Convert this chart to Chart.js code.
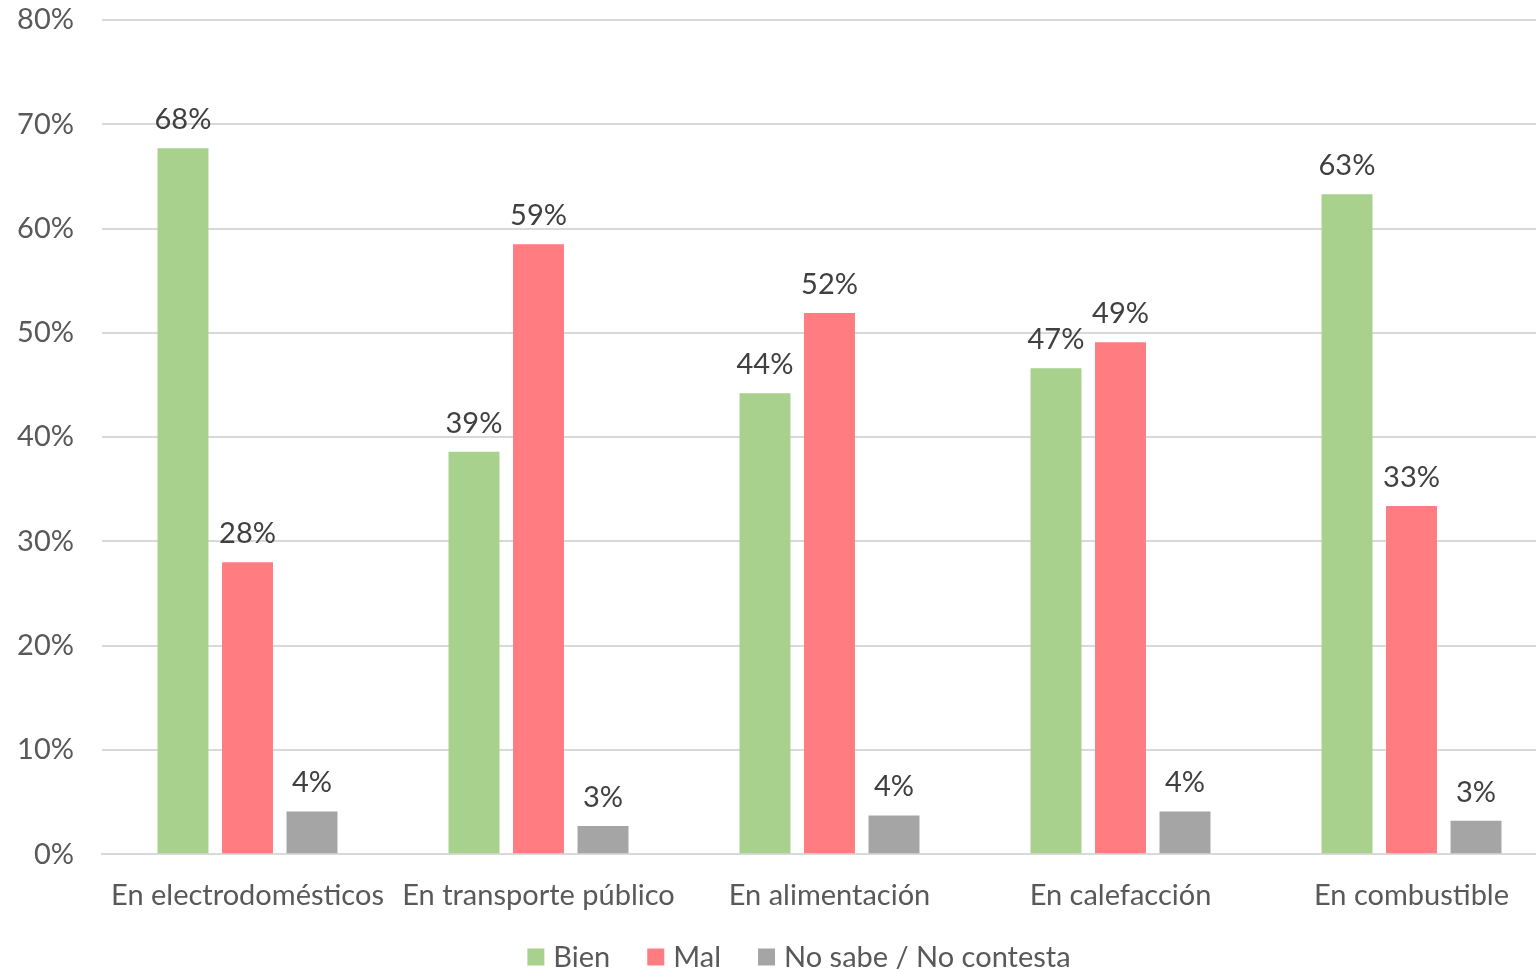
<!DOCTYPE html>
<html>
<head>
<meta charset="utf-8">
<script src="https://cdn.jsdelivr.net/npm/chart.js@4"></script>
<style>
    html, body { margin: 0; padding: 0; background: #ffffff; overflow: hidden; }
    #wrap { width: 1536px; height: 971px; overflow: hidden; }
</style>
</head>
<body>
<div id="wrap"><canvas id="chart" width="1557" height="971"></canvas></div>
<script>
const categories = ['En electrodomésticos', 'En transporte público', 'En alimentación', 'En calefacción', 'En combustible'];
const bienValues = [67.7, 38.6, 44.2, 46.6, 63.3];
const malValues = [28.0, 58.5, 51.9, 49.1, 33.4];
const nsncValues = [4.1, 2.7, 3.7, 4.1, 3.2];
const yTicks = [0, 10, 20, 30, 40, 50, 60, 70, 80];

const FONT = 'Lato, "Open Sans", sans-serif';

// Value labels above each bar
const barLabels = {
    id: 'barLabels',
    afterDatasetsDraw(chart) {
        const ctx = chart.ctx;
        ctx.save();
        ctx.font = '29px ' + FONT;
        ctx.fillStyle = '#404040';
        ctx.textAlign = 'center';
        ctx.textBaseline = 'bottom';
        chart.data.datasets.forEach((ds, i) => {
            chart.getDatasetMeta(i).data.forEach((bar, j) => {
                ctx.fillText(Math.round(ds.data[j]) + '%', bar.x, bar.y - 14);
            });
        });
        ctx.restore();
    }
};

// Legend drawn by hand: small squares, tight text gap, wide item gap
const bottomLegend = {
    id: 'bottomLegend',
    afterDraw(chart) {
        const ctx = chart.ctx;
        const box = 17, textGap = 9, itemGap = 37;
        const cy = 957, cx = 799;
        ctx.save();
        ctx.font = '29px ' + FONT;
        ctx.textBaseline = 'middle';
        ctx.textAlign = 'left';
        const items = chart.data.datasets.map(ds => ({
            text: ds.label,
            color: ds.backgroundColor,
            w: box + textGap + ctx.measureText(ds.label).width
        }));
        const total = items.reduce((s, it) => s + it.w, 0) + itemGap * (items.length - 1);
        let x = cx - total / 2;
        items.forEach(it => {
            ctx.fillStyle = it.color;
            ctx.fillRect(x, cy - box / 2, box, box);
            ctx.fillStyle = '#595959';
            ctx.fillText(it.text, x + box + textGap, cy + 1);
            x += it.w + itemGap;
        });
        ctx.restore();
    }
};

new Chart(document.getElementById('chart').getContext('2d'), {
    type: 'bar',
    data: {
        labels: categories,
        datasets: [
            { label: 'Bien', data: bienValues, backgroundColor: '#a9d18e' },
            { label: 'Mal', data: malValues, backgroundColor: '#ff7c80' },
            { label: 'No sabe / No contesta', data: nsncValues, backgroundColor: '#a5a5a5' }
        ]
    },
    options: {
        responsive: false,
        animation: false,
        devicePixelRatio: 1,
        layout: { padding: { top: 20, right: 0, bottom: 42, left: 0 } },
        datasets: {
            bar: { categoryPercentage: 0.665, barPercentage: 0.79 }
        },
        plugins: {
            legend: { display: false },
            tooltip: { enabled: false }
        },
        scales: {
            x: {
                grid: { display: false },
                border: { color: '#d9d9d9', width: 2 },
                ticks: {
                    font: { family: FONT, size: 29 },
                    color: '#595959',
                    padding: 16,
                    maxRotation: 0,
                    autoSkip: false
                }
            },
            y: {
                min: 0,
                max: 80,
                afterFit(scale) {
                    scale.width = 102;
                    scale.paddingTop = 0;
                    scale.paddingBottom = 0;
                },
                afterBuildTicks(scale) { scale.ticks = yTicks.map(v => ({ value: v })); },
                grid: { color: '#d9d9d9', lineWidth: 2, drawTicks: false },
                border: { display: false },
                ticks: {
                    font: { family: FONT, size: 29 },
                    color: '#595959',
                    padding: 28,
                    callback: v => v + '%'
                }
            }
        }
    },
    plugins: [barLabels, bottomLegend]
});
</script>
</body>
</html>
